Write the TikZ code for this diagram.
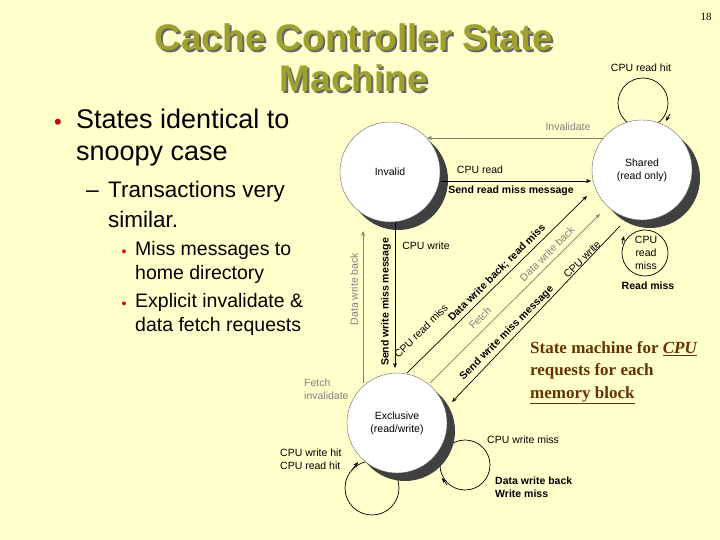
\documentclass[tikz,border=0pt]{standalone}
\usepackage{fontspec}
\setmainfont{Liberation Sans}
\newfontfamily\serifx{Liberation Serif}
\usetikzlibrary{arrows.meta}
\definecolor{bg}{HTML}{FFFFCC}
\definecolor{olive}{HTML}{A0A030}
\definecolor{brownx}{HTML}{663300}
\definecolor{gline}{HTML}{808070}
\begin{document}
\begin{tikzpicture}[x=1pt,y=-1pt,
  st/.style={circle,draw=gray!80!black,fill=white,minimum size=100pt,inner sep=0pt,font=\fontsize{10.5}{13}\selectfont,align=center},
  sh/.style={circle,fill=black!75,minimum size=100pt,inner sep=0pt},
  lb/.style={font=\fontsize{10.5}{13}\selectfont,inner sep=0pt,align=center},
  bl/.style={lb,font=\fontsize{10.5}{13}\selectfont\bfseries},
  gl/.style={lb,text=gray},
  ar/.style={-{Stealth[length=5pt,width=4pt]},line width=0.7pt},
  gar/.style={ar,draw=gline},
  loop/.style={line width=0.7pt}]
\fill[bg] (0,0) rectangle (720,540);
\useasboundingbox (0,0) rectangle (720,540);
% title
\foreach \t/\y in {Cache Controller State/37, Machine/78}{
  \node[font=\fontsize{37}{40}\selectfont\bfseries,text=black!60] at (356,\y+2) {\t};
  \node[font=\fontsize{37}{40}\selectfont\bfseries,text=olive] (ti\y) at (354,\y) {\t};}
\node[font=\serifx\fontsize{11}{13}\selectfont] (pg) at (706,17) {18};
% bullets
\node[text=red!80!black,font=\fontsize{22}{26}\selectfont] (b1) at (58,124) {•};
\node[anchor=north west,align=left,font=\fontsize{27}{32}\selectfont,inner sep=0pt] (t1) at (76,109) {States identical to\\snoopy case};
\node[anchor=west,font=\fontsize{23}{26}\selectfont,inner sep=0pt] (b2) at (86,194) {–};
\node[anchor=north west,align=left,font=\fontsize{22.5}{30}\selectfont,inner sep=0pt] (t2) at (108,181) {Transactions very\\similar.};
\node[text=red!80!black,font=\fontsize{14}{16}\selectfont] (b3) at (124,253) {•};
\node[anchor=north west,align=left,font=\fontsize{19.5}{24.5}\selectfont,inner sep=0pt] (t3) at (135,241) {Miss messages to\\home directory};
\node[text=red!80!black,font=\fontsize{14}{16}\selectfont] (b4) at (124,305) {•};
\node[anchor=north west,align=left,font=\fontsize{19.5}{24.5}\selectfont,inner sep=0pt] (t4) at (135,293) {Explicit invalidate \&\\data fetch requests};
% loops
\draw[loop] (643,103) circle[radius=25];
\draw[loop] (645,253) circle[radius=23];
\draw[loop] (372,488) circle[radius=27];
\draw[loop] (465,465) circle[radius=25];
% shadows and states
\node[sh] (s1) at (398,180) {};
\node[sh] (s2) at (650,178) {};
\node[sh] (s3) at (405,431) {};
\node[st] (I) at (390,172) {Invalid};
\node[st] (S) at (642,170) {Shared\\(read only)};
\node[st] (E) at (397,423) {Exclusive\\(read/write)};
% loop arrowheads
\draw[ar] (670,114) -- (666,121);
\draw[ar] (622,244) -- (624,236);
\draw[ar] (352,470) -- (358,462);
\draw[ar] (447,485) -- (442,478);
% transitions
\coordinate (a1) at (603,138);
\coordinate (a2) at (427,138);
\draw[gar] (a1) -- (a2);
\coordinate (c1) at (441,181);
\coordinate (c2) at (591,181);
\draw[ar] (c1) -- (c2);
\coordinate (w1) at (395,223);
\coordinate (w2) at (395,368);
\draw[ar] (w1) -- (w2);
\coordinate (d1) at (363,383);
\coordinate (d2) at (363,231);
\draw[gar] (d1) -- (d2);
\coordinate (e1) at (407,373);
\coordinate (e2) at (587,196);
\draw[ar] (e1) -- (e2);
\coordinate (f1) at (430,383);
\coordinate (f2) at (600,214);
\draw[gar] (f1) -- (f2);
\coordinate (g1) at (620,226);
\coordinate (g2) at (452,402);
\draw[ar] (g1) -- (g2);
% labels
\node[gl] (l1) at (568,127) {Invalidate};
\node[lb] (l2) at (480,170) {CPU read};
\node[bl] (l3) at (511,191) {Send read miss message};
\node[lb] (l4) at (426,246) {CPU write};
\node[bl,rotate=90] (l5) at (386,302) {Send write miss message};
\node[gl,rotate=90] (l6) at (354,289) {Data write back};
\node[gl,align=left,anchor=west] (l7) at (304,389) {Fetch\\invalidate};
\node[bl,rotate=45] (l8) at (497,273) {Data write back; read miss};
\node[lb,rotate=45] (l9) at (421,331) {CPU read miss};
\node[gl,rotate=45] (l10) at (547,254) {Data write back};
\node[gl,rotate=45] (l11) at (480,318) {Fetch};
\node[lb,rotate=45] (l12) at (582,259) {CPU write};
\node[bl,rotate=45] (l13) at (507,333) {Send write miss message};
\node[lb] (l14) at (641,68) {CPU read hit};
\node[lb] (l15) at (646,253) {CPU\\read\\miss};
\node[bl] (l16) at (648,286) {Read miss};
\node[lb,align=left,anchor=west] (l17) at (280,459) {CPU write hit\\CPU read hit};
\node[lb,anchor=west] (l18) at (487,440) {CPU write miss};
\node[bl,align=left,anchor=west] (l19) at (495,487) {Data write back\\Write miss};
\node[anchor=north west,align=left,inner sep=0pt,text=brownx,font=\serifx\fontsize{17}{22.5}\selectfont\bfseries] (cap) at (530,341)
 {State machine for \underline{\itshape CPU}\\requests for each\\\underline{memory block}};
\end{tikzpicture}
\end{document}
